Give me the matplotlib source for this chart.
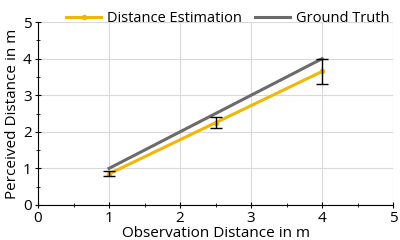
import numpy as np
import matplotlib.pyplot as plt
from matplotlib.ticker import MultipleLocator

obs = [1, 2.5, 4]
estimate = [0.85, 2.25, 3.65]
est_err = [0.07, 0.15, 0.35]
truth = [1, 2.5, 4]

plt.rcParams['font.family'] = ['Open Sans', 'DejaVu Sans']

fig = plt.figure(figsize=(4, 2.4), dpi=100)
ax = fig.add_axes([0.095, 0.146, 0.888, 0.762])

ax.plot(obs, estimate, color="#f2b705", lw=2.2, marker='o', ms=3, label="Distance Estimation", zorder=3)
ax.errorbar(obs, estimate, yerr=est_err, fmt='none', ecolor='black', elinewidth=1, capsize=4, zorder=4)
ax.plot(obs, truth, color="#6b6b6b", lw=2.2, label="Ground Truth", zorder=2)

ax.set_xlim(0, 5)
ax.set_ylim(0, 5)
ax.xaxis.set_major_locator(MultipleLocator(1))
ax.yaxis.set_major_locator(MultipleLocator(1))
ax.xaxis.set_minor_locator(MultipleLocator(0.5))
ax.yaxis.set_minor_locator(MultipleLocator(0.5))
ax.grid(True, which='major', color='#d9d9d9', lw=0.8)
ax.set_axisbelow(True)

ax.spines['right'].set_color('none')
ax.spines['top'].set_color('none')
ax.tick_params(which='both', direction='inout', labelsize=11, pad=2)
ax.tick_params(which='major', length=5)
ax.tick_params(which='minor', length=3)

ax.set_xlabel('Observation Distance in m', fontsize=11, labelpad=0)
ax.set_ylabel('Perceived Distance in m', fontsize=11, labelpad=2)

ax.legend(loc='lower center', bbox_to_anchor=(0.535, 0.98), ncol=2, frameon=False,
          fontsize=10.5, handlelength=2.4, columnspacing=0.9, handletextpad=0.4,
          borderpad=0, borderaxespad=0)

fig.savefig('out.png', dpi=100)
